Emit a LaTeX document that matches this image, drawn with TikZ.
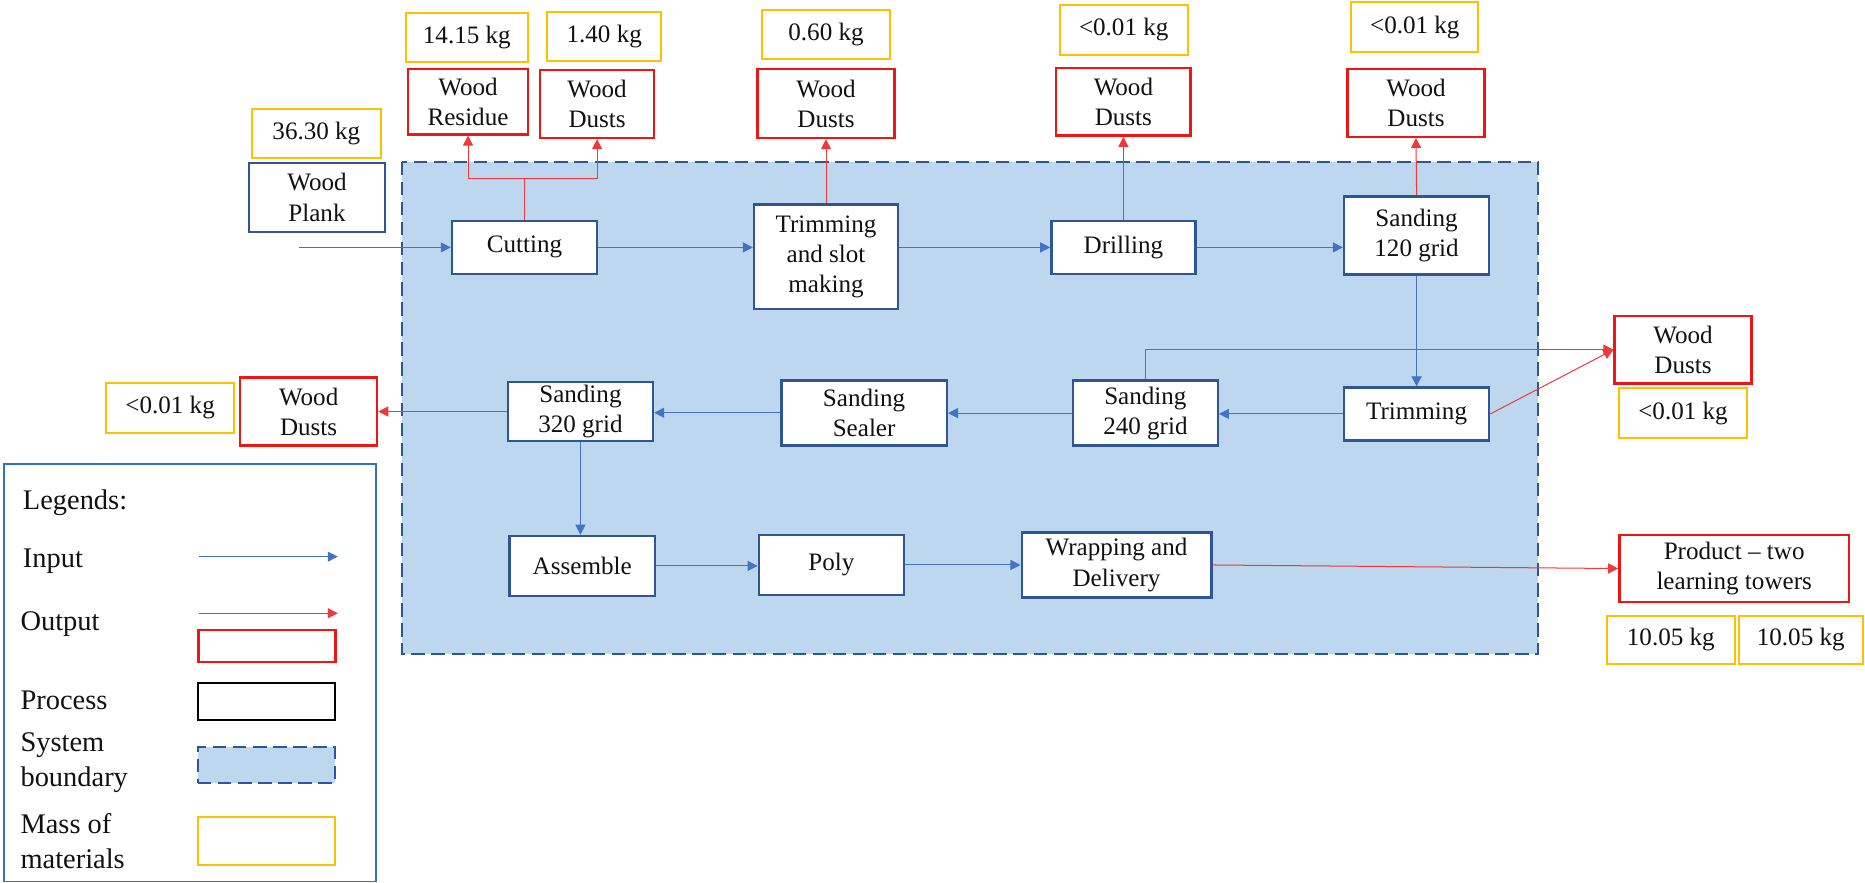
\documentclass[tikz,border=0pt]{standalone}
\usepackage{fontspec}
\setmainfont{Liberation Serif}
\usepackage{xcolor}
\usepackage{tikz}
\usetikzlibrary{arrows.meta,positioning,calc}
\definecolor{Ink}{HTML}{111111}
\definecolor{ProcBlue}{HTML}{2F5597}
\definecolor{InBlue}{HTML}{4472C4}
\definecolor{OutRed}{HTML}{F01515}
\definecolor{MassGold}{HTML}{FFC000}
\definecolor{SysFill}{HTML}{BDD7EE}
\definecolor{SysLine}{HTML}{2F5597}
\definecolor{LegLine}{HTML}{2E75B6}
\tikzset{
  box/.style={draw,fill=white,inner sep=0pt,align=center,text=Ink,font=\fontsize{15}{18}\selectfont},
  procbox/.style={box,draw=ProcBlue,line width=1.4pt,minimum width=3.05cm,minimum height=1.11cm},
  inbox/.style={box,draw=ProcBlue,line width=1.4pt,minimum width=2.85cm,minimum height=1.45cm},
  outbox/.style={box,draw=OutRed,line width=1.4pt,minimum width=2.875cm,minimum height=1.425cm},
  massbox/.style={box,draw=MassGold,line width=1.2pt,minimum width=2.675cm,minimum height=1.05cm},
  inarrow/.style={-{Triangle[length=6pt,width=6pt]},draw=InBlue,line width=0.6pt},
  outarrow/.style={-{Triangle[length=6pt,width=6pt]},draw=OutRed!85!white,line width=0.6pt},
  legtext/.style={anchor=west,align=left,inner sep=0pt,text=Ink,font=\fontsize{17}{21}\selectfont},
  legbox/.style={inner sep=0pt,minimum width=2.875cm}
}
\begin{document}
\begin{tikzpicture}[x=0.025cm,y=-0.025cm]
  \useasboundingbox (0,0) rectangle (1568,742);
  % system boundary
  \draw[SysLine,fill=SysFill,line width=1.2pt,dash pattern=on 8pt off 4pt] (338,136) rectangle (1293,550);

  % input
  \node[inbox] (plank) at (266.5,166) {Wood\\Plank};
  \node[massbox,minimum width=2.7cm,minimum height=1.025cm] (mplank) at (266,112.5) {36.30 kg};

  % first row of processes
  \node[procbox] (cut) at (441,208) {Cutting};
  \node[procbox,minimum width=3.025cm,minimum height=2.2cm] (trim) at (694.5,216) {Trimming\\and slot\\making};
  \node[procbox,minimum width=3.025cm] (drill) at (944.5,208) {Drilling};
  \node[procbox,minimum height=1.64cm] (s120) at (1191,198) {Sanding\\120 grid};

  % second row
  \node[procbox] (trm) at (1191,348) {Trimming};
  \node[procbox,minimum width=3.04cm,minimum height=1.365cm] (s240) at (963,347.3) {Sanding\\240 grid};
  \node[procbox,minimum width=3.475cm,minimum height=1.365cm] (sealer) at (726.5,347.3) {Sanding\\Sealer};
  \node[procbox,minimum height=1.25cm] (s320) at (488,346) {Sanding\\320 grid};

  % third row
  \node[procbox,minimum height=1.26cm] (asm) at (489.5,475.8) {Assemble};
  \node[procbox,minimum height=1.26cm] (poly) at (699,475) {Poly};
  \node[procbox,minimum width=3.985cm,minimum height=1.36cm] (wrap) at (938.7,475) {Wrapping and\\Delivery};

  % outputs and masses
  \node[outbox,minimum width=2.525cm,minimum height=1.375cm] (resid) at (393.5,85.5) {Wood\\Residue};
  \node[massbox,minimum width=2.575cm,minimum height=1.025cm] (mresid) at (392.5,31.5) {14.15 kg};
  \node[outbox,minimum width=2.4cm] (dcut) at (502,87.5) {Wood\\Dusts};
  \node[massbox,minimum width=2.4cm,minimum height=1.025cm] (mdcut) at (508,30.5) {1.40 kg};
  \node[outbox,minimum height=1.45cm] (dtrim) at (694.5,87) {Wood\\Dusts};
  \node[massbox] (mdtrim) at (694.5,29) {0.60 kg};
  \node[outbox,minimum width=2.825cm] (ddrill) at (944.5,85.5) {Wood\\Dusts};
  \node[massbox,minimum width=2.69cm] (mddrill) at (944.75,25) {<0.01 kg};
  \node[outbox] (ds120) at (1190.5,86.5) {Wood\\Dusts};
  \node[massbox] (mds120) at (1189.5,23) {<0.01 kg};
  \node[outbox] (dtrm) at (1415,294) {Wood\\Dusts};
  \node[massbox] (mdtrm) at (1415,347.4) {<0.01 kg};
  \node[outbox] (d320) at (259.5,346) {Wood\\Dusts};
  \node[massbox,minimum width=2.7cm,minimum height=1.04cm] (md320) at (143,343) {<0.01 kg};
  \node[outbox,minimum width=4.825cm,minimum height=1.41cm] (prod) at (1458,478) {Product – two\\learning towers};
  \node[massbox,minimum width=2.69cm,minimum height=1.025cm] (mprod1) at (1404.75,538) {10.05 kg};
  \node[massbox,minimum width=2.6cm,minimum height=1.025cm] (mprod2) at (1514,538) {10.05 kg};

  % input flow
  \coordinate (feed) at (251,208);
  \draw[inarrow] (feed) -- (cut.west);
  \draw[inarrow] (cut.east) -- (cut.east -| trim.west);
  \draw[inarrow] (trim.east |- drill.west) -- (drill.west);
  \draw[inarrow] (drill.east) -- (drill.east -| s120.west);
  \draw[inarrow] (s120.south) -- (trm.north);
  \draw[inarrow] (trm.west) -- (trm.west -| s240.east);
  \draw[inarrow] (s240.west) -- (s240.west -| sealer.east);
  \draw[inarrow] (sealer.west |- 0,347) -- (s320.east |- 0,347);
  \draw[inarrow] (s320.south) -- (s320.south |- asm.north);
  \draw[inarrow] (asm.east) -- (asm.east -| poly.west);
  \draw[inarrow] (poly.east) -- (poly.east -| wrap.west);

  % output flow
  \coordinate (cutsplit) at (441,150);
  \draw[outarrow] (cut.north) -- (cutsplit) -| (resid.south);
  \draw[outarrow] (cutsplit) -| (dcut.south);
  \draw[outarrow] (trim.north) -- (dtrim.south);
  \draw[outarrow] (drill.north) -- (ddrill.south);
  \draw[outarrow] (s120.north) -- (ds120.south);
  \draw[outarrow] (s240.north) |- (dtrm.west);
  \draw[outarrow] (trm.east) -- (dtrm.west);
  \draw[outarrow] (s320.west) -- (d320.east);
  \draw[outarrow] (wrap.east) -- (prod.west);

  % legend
  \draw[LegLine,line width=1pt] (3.5,390) rectangle (316,741);
  \node[legtext] (lgtitle) at (19,423) {Legends:};
  \node[legtext] (lgin) at (19,472) {Input};
  \coordinate (lginA) at (167,468);
  \coordinate (lginB) at (284,468);
  \draw[inarrow] (lginA) -- (lginB);
  \node[legtext] (lgout) at (17,525) {Output};
  \coordinate (lgoutA) at (167,515.6);
  \coordinate (lgoutB) at (284,515.6);
  \draw[outarrow] (lgoutA) -- (lgoutB);
  \node[legbox,draw=OutRed,line width=1.4pt,minimum height=0.675cm] (lgoutbox) at (224.5,543) {};
  \node[legtext] (lgproc) at (17,589) {Process};
  \node[legbox,draw=black,line width=1.4pt,minimum height=0.775cm] (lgprocbox) at (224,590) {};
  \node[legtext] (lgsys) at (17,641) {System\\boundary};
  \node[legbox,draw=SysLine,fill=SysFill,line width=1.2pt,dash pattern=on 8pt off 4pt,minimum height=0.75cm] (lgsysbox) at (224,643) {};
  \node[legtext] (lgmass) at (17,707) {Mass of\\materials};
  \node[legbox,draw=MassGold,line width=1.2pt,minimum height=1.01cm] (lgmassbox) at (224,707) {};
\end{tikzpicture}
\end{document}
